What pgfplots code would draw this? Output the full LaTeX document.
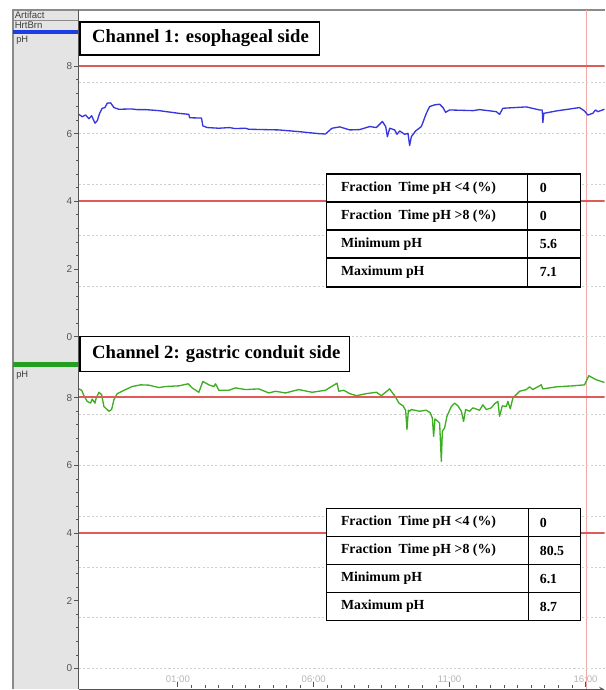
\documentclass[border=0pt]{standalone}
\usepackage{pgfplots}
\pgfplotsset{compat=1.18}
\usepackage{pgfplotstable}
\usepackage{fontspec}
\setmainfont{Liberation Serif}
\newfontfamily\uisans{Liberation Sans}
\definecolor{panelgray}{HTML}{E4E4E4}
\definecolor{axgray}{HTML}{555555}
\definecolor{framegray}{HTML}{8A8A8A}
\definecolor{traceblue}{HTML}{3636DC}
\definecolor{tracegreen}{HTML}{3DAE22}
\definecolor{refred}{HTML}{E05A5A}
\definecolor{vlinecol}{HTML}{F3A8A8}
\definecolor{gridcol}{HTML}{D0D0D0}
\definecolor{timecol}{HTML}{B5B5B5}
\definecolor{barblue}{HTML}{1E3CE6}
\definecolor{bargreen}{HTML}{22A01E}

% Channel 1: esophageal side (hours since midnight, pH)
\pgfplotstableread{
h ph
-2.640 6.57
-2.518 6.50
-2.393 6.55
-2.272 6.44
-2.173 6.53
-2.051 6.31
-1.967 6.38
-1.879 6.60
-1.783 6.75
-1.684 6.77
-1.599 6.90
-1.474 6.91
-1.353 6.77
-1.169 6.72
-0.700 6.73
-0.500 6.71
-0.188 6.71
0.301 6.68
1.037 6.60
1.404 6.57
1.430 6.47
1.871 6.46
1.919 6.23
2.077 6.18
2.507 6.16
2.900 6.18
3.100 6.15
3.489 6.16
3.610 6.13
4.713 6.11
5.449 6.06
6.184 6.00
6.430 5.99
6.673 6.16
6.956 6.20
7.324 6.11
7.691 6.12
8.059 6.21
8.305 6.18
8.526 6.36
8.647 6.21
8.710 5.91
8.794 6.16
8.978 6.11
9.063 5.98
9.162 6.08
9.346 5.98
9.467 6.01
9.529 5.65
9.592 5.91
9.750 6.08
9.960 6.21
10.143 6.60
10.265 6.80
10.449 6.85
10.632 6.87
10.754 6.77
10.853 6.63
11.000 6.70
11.857 6.68
12.103 6.71
12.717 6.65
12.838 6.57
12.960 6.75
13.820 6.79
14.309 6.70
14.408 6.70
14.430 6.33
14.467 6.60
14.923 6.67
15.779 6.77
15.963 6.67
16.085 6.55
16.268 6.60
16.368 6.70
16.452 6.65
16.699 6.72
}\chone

% Channel 2: gastric conduit side
\pgfplotstableread{
h ph
-2.640 8.26
-2.540 8.22
-2.456 8.06
-2.335 7.89
-2.210 7.84
-2.151 7.96
-2.051 7.84
-2.004 7.99
-1.904 8.16
-1.805 8.09
-1.721 7.74
-1.537 7.60
-1.438 7.65
-1.353 7.94
-1.232 8.12
-0.923 8.24
-0.680 8.33
-0.371 8.38
-0.066 8.37
0.301 8.30
0.548 8.33
1.037 8.35
1.379 8.41
1.526 8.29
1.772 8.16
1.919 8.48
2.140 8.38
2.324 8.33
2.386 8.41
2.507 8.22
2.875 8.22
3.121 8.29
3.489 8.24
3.978 8.26
4.346 8.14
4.592 8.19
4.960 8.14
5.449 8.24
5.938 8.16
6.430 8.22
6.857 8.43
6.919 8.19
7.103 8.22
7.324 8.12
7.570 8.06
7.938 8.12
8.305 8.16
8.489 8.06
8.794 8.26
8.915 8.12
8.978 8.06
9.136 7.84
9.283 7.76
9.382 7.63
9.430 7.06
9.482 7.63
9.529 7.60
9.592 7.65
9.897 7.60
10.143 7.63
10.290 7.55
10.364 7.40
10.412 6.86
10.460 7.37
10.570 7.30
10.632 7.25
10.695 6.12
10.732 7.01
10.816 7.11
10.901 7.45
11.063 7.74
11.184 7.84
11.305 7.76
11.430 7.60
11.515 7.30
11.588 7.65
11.735 7.60
11.857 7.70
12.103 7.63
12.224 7.79
12.349 7.65
12.533 7.70
12.654 7.82
12.776 7.89
12.838 7.45
12.938 7.76
13.085 7.74
13.143 7.89
13.232 7.67
13.327 7.99
13.574 8.19
13.820 8.24
13.941 8.32
14.063 8.24
14.371 8.38
14.430 8.26
14.923 8.32
15.533 8.35
15.963 8.38
16.121 8.65
16.393 8.53
16.699 8.45
}\chtwo

\pgfplotsset{
  chstyle/.style={
    scale only axis,
    width=394.5pt,
    xmin=-2.64, xmax=16.70,
    axis y line=left,
    axis line style={-, draw=axgray, line width=0.8pt},
    ytick={0,2,4,6,8},
    minor y tick num=4,
    tick align=outside,
    major tick length=3.75pt,
    minor tick length=2.2pt,
    tick style={axgray, line width=0.6pt},
    yticklabel style={font=\uisans\fontsize{7.5}{8}\selectfont, text=axgray, inner sep=1.2pt},
    /pgf/number format/assume math mode=true,
    extra y ticks={0,1.5,3,4.5,6,7.5,9},
    extra y tick labels={},
    extra y tick style={grid=major, major grid style={gridcol, dash pattern=on 1.6pt off 1.6pt, line width=0.6pt}, tick style={draw=none}},
    clip=true,
  }
}

\begin{document}
\begin{tikzpicture}
\begin{scope}[x=0.75pt,y=0.75pt]
\useasboundingbox (0,0) rectangle (605,690);
% left panel and frame
\fill[panelgray] (13,0) rectangle (79,680);
\draw[framegray, line width=0.8pt] (13,0) -- (13,680) -- (605,680);
\draw[framegray, line width=0.6pt] (13,670) -- (79,670);
\draw[framegray, line width=0.6pt] (13,660) -- (79,660);
\fill[barblue] (13,656) rectangle (79,660);
\fill[bargreen] (13,323) rectangle (79,328);
\node[anchor=west, inner sep=0pt, font=\uisans\fontsize{7.2}{8}\selectfont, text=black!75] at (14.5,675) {Artifact};
\node[anchor=west, inner sep=0pt, font=\uisans\fontsize{7.2}{8}\selectfont, text=black!75] at (14.5,665) {HrtBrn};
\node[anchor=west, inner sep=0pt, font=\uisans\fontsize{7}{8}\selectfont, text=black!75] at (16,650) {pH};
\node[anchor=west, inner sep=0pt, font=\uisans\fontsize{7}{8}\selectfont, text=black!75] at (16,314) {pH};
\draw[axgray, line width=0.8pt] (79,0) -- (79,680);
% event marker at 16:00 spanning both channels
\draw[vlinecol, line width=1pt] (587,0) -- (587,679.5);
\end{scope}

% Channel 1
\begin{axis}[chstyle, at={(59.25pt,247.5pt)}, anchor=south west,
  height=244.5pt, ymin=-0.679, ymax=8.945, axis x line=none]
  \addplot[traceblue, line width=1pt, line join=round, mark=none] table[x=h, y=ph] {\chone};
  \addplot[refred, line width=1.4pt, mark=none, forget plot] coordinates {(-2.64,4.02) (16.70,4.02)};
  \addplot[refred, line width=1.4pt, mark=none, forget plot] coordinates {(-2.64,8) (16.70,8)};
\end{axis}

% Channel 2
\begin{axis}[chstyle, at={(59.25pt,0pt)}, anchor=south west,
  height=242.25pt, ymin=-0.620, ymax=8.915,
  axis x line=bottom,
  xtick={1,6,11,16}, xticklabels={01:00,06:00,11:00,16:00},
  minor x tick num=9,
  every major x tick/.append style={yshift=3.75pt},
  every minor x tick/.append style={yshift=2.2pt},
  xticklabel style={font=\uisans\fontsize{7.2}{8}\selectfont, text=timecol, anchor=center, yshift=9.5pt}]
  \addplot[tracegreen, line width=1pt, line join=round, mark=none] table[x=h, y=ph] {\chtwo};
  \addplot[refred, line width=1.4pt, mark=none, forget plot] coordinates {(-2.64,4) (16.70,4)};
  \addplot[refred, line width=1.4pt, mark=none, forget plot] coordinates {(-2.64,8.02) (16.70,8.02)};
\end{axis}

\begin{scope}[x=0.75pt,y=0.75pt]
% Channel title boxes
\draw[black, line width=1.1pt, fill=white] (80,635) rectangle (320,668);
\node[anchor=west, inner sep=0pt, font=\bfseries\fontsize{14}{16}\selectfont] at (92,651.5) {Channel 1: esophageal side};
\draw[black, line width=1.1pt, fill=white] (80,318) rectangle (350,353);
\node[anchor=west, inner sep=0pt, font=\bfseries\fontsize{14}{16}\selectfont] at (92,335.5) {Channel 2: gastric conduit side};

% Tables
\begin{scope}[every node/.style={anchor=west, inner sep=0pt, font=\bfseries\fontsize{10.4}{12}\selectfont}]
\draw[black, line width=1.1pt, fill=white] (327,403) rectangle (581,516);
\draw[black, line width=1.1pt] (327,488) -- (581,488) (327,460) -- (581,460) (327,432) -- (581,432) (528,403) -- (528,516);
\node at (341,502) {Fraction\ \ Time pH <4 (\%)};
\node at (341,474) {Fraction\ \ Time pH >8 (\%)};
\node at (341,446) {Minimum pH};
\node at (341,417.5) {Maximum pH};
\node at (540,502) {0};
\node at (540,474) {0};
\node at (540,446) {5.6};
\node at (540,417.5) {7.1};
\draw[black, line width=1.1pt, fill=white] (327,69) rectangle (581,181);
\draw[black, line width=1.1pt] (327,153) -- (581,153) (327,125) -- (581,125) (327,97) -- (581,97) (529,69) -- (529,181);
\node at (341,167) {Fraction\ \ Time pH <4 (\%)};
\node at (341,139) {Fraction\ \ Time pH >8 (\%)};
\node at (341,111) {Minimum pH};
\node at (341,83) {Maximum pH};
\node at (540,167) {0};
\node at (540,139) {80.5};
\node at (540,111) {6.1};
\node at (540,83) {8.7};
\end{scope}
\end{scope}
\end{tikzpicture}
\end{document}
